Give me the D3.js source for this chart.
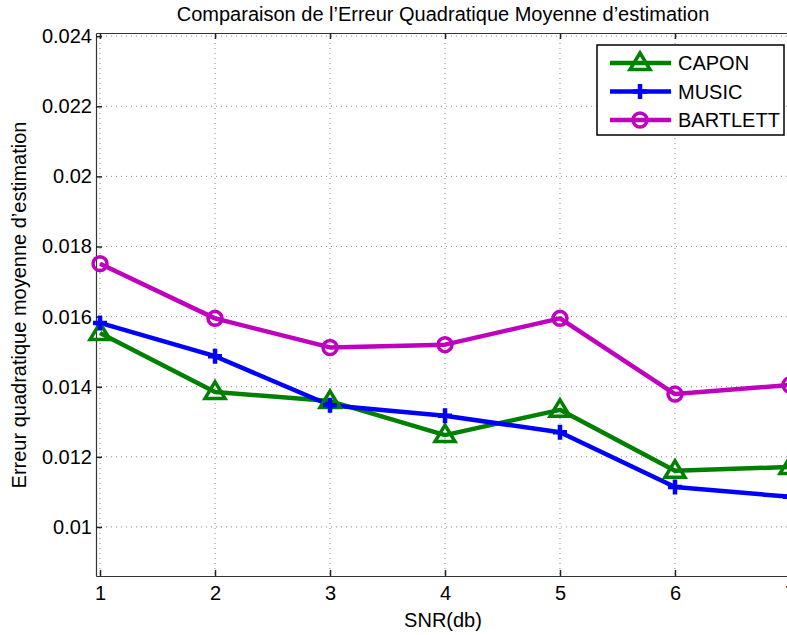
<!DOCTYPE html>
<html><head><meta charset="utf-8">
<script src="https://cdn.jsdelivr.net/npm/d3@7"></script>
<style>body{margin:0;background:#fff}svg{display:block}text{font-family:"Liberation Sans",Arial,sans-serif}</style>
</head><body>
<script>
const snr = [1,2,3,4,5,6,7];
const capon = [0.01553,0.01385,0.01359,0.01262,0.01334,0.0116,0.01171];
const music = [0.01582,0.01487,0.01347,0.01317,0.01270,0.01114,0.01086];
const bartlett = [0.01751,0.01595,0.01512,0.01520,0.01595,0.01379,0.01405];
const yTicks = [0.01,0.012,0.014,0.016,0.018,0.02,0.022,0.024];
const yTickLabels = ["0.01","0.012","0.014","0.016","0.018","0.02","0.022","0.024"];
const xTickLabels = ["1","2","3","4","5","6","7"];
const seriesNames = ["CAPON","MUSIC","BARTLETT"];
const colors = ["#008000","#0000ff","#bf00bf"];

const W=787,H=635;
const L=96,T=33,B=576,R=794;
const svg=d3.select("body").append("svg").attr("width",W).attr("height",H);
const x=d3.scaleLinear().domain([0.965,7.035]).range([L,R]);
const y=d3.scaleLinear().domain([0.0086,0.02409]).range([B,T]);

// grid
const g=svg.append("g");
snr.forEach(v=>g.append("line").attr("x1",x(v)).attr("x2",x(v)).attr("y1",T).attr("y2",B)
  .attr("stroke","#888").attr("stroke-width",1).attr("stroke-dasharray","1,4"));
yTicks.forEach(v=>g.append("line").attr("x1",L).attr("x2",R).attr("y1",y(v)).attr("y2",y(v))
  .attr("stroke","#888").attr("stroke-width",1).attr("stroke-dasharray","1,4"));

// axes
const xAxis=d3.axisBottom(x).tickValues(snr).tickFormat((d,i)=>xTickLabels[i]).tickSizeInner(-6).tickSizeOuter(0).tickPadding(10);
const yAxis=d3.axisLeft(y).tickValues(yTicks).tickFormat((d,i)=>yTickLabels[i]).tickSizeInner(-6).tickSizeOuter(0).tickPadding(4);
const xa=svg.append("g").attr("transform",`translate(0,${B})`).call(xAxis);
const ya=svg.append("g").attr("transform",`translate(${L},0)`).call(yAxis);
const xt=svg.append("g").attr("transform",`translate(0,${T})`).call(d3.axisTop(x).tickValues(snr).tickFormat("").tickSizeInner(-6).tickSizeOuter(0));
[xa,ya,xt].forEach(a=>{a.attr("font-size",20).attr("font-family","Liberation Sans, Arial, sans-serif");
  a.selectAll("path").attr("stroke","#333").attr("stroke-width",1.2);
  a.selectAll("line").attr("stroke","#222").attr("stroke-width",1.5);
  a.selectAll("text").attr("fill","#000");});

// lines
const data=[capon,music,bartlett];
const line=d3.line().x((d,i)=>x(snr[i])).y(d=>y(d));
const plot=svg.append("g");
data.forEach((s,k)=>{
  plot.append("path").attr("d",line(s)).attr("fill","none").attr("stroke",colors[k]).attr("stroke-width",4.5).attr("stroke-linejoin","round");
});
function marker(sel,k,cx,cy){
  if(k===0){
    sel.append("path").attr("d",`M${cx},${cy-10}L${cx+10},${cy+6.5}L${cx-10},${cy+6.5}Z`).attr("fill","none").attr("stroke",colors[k]).attr("stroke-width",3.5);
  } else if(k===1){
    sel.append("path").attr("d",`M${cx-7},${cy}H${cx+7}M${cx},${cy-7.5}V${cy+7.5}`).attr("stroke",colors[k]).attr("stroke-width",4.5);
  } else {
    sel.append("circle").attr("cx",cx).attr("cy",cy).attr("r",7).attr("fill","none").attr("stroke",colors[k]).attr("stroke-width",3.5);
  }
}
data.forEach((s,k)=>s.forEach((v,i)=>marker(plot,k,x(snr[i]),y(v))));

// legend
const lg=svg.append("g");
lg.append("rect").attr("x",597).attr("y",45).attr("width",187).attr("height",90).attr("fill","#fff").attr("stroke","#000").attr("stroke-width",1.5);
seriesNames.forEach((n,k)=>{
  const ly=63+k*28.5;
  lg.append("line").attr("x1",610).attr("x2",671).attr("y1",ly).attr("y2",ly).attr("stroke",colors[k]).attr("stroke-width",4.5);
  marker(lg,k,640,ly);
  lg.append("text").attr("x",678).attr("y",ly+7).attr("font-size",20).text(n);
});

// titles
svg.append("text").attr("x",443).attr("y",21).attr("text-anchor","middle").attr("font-size",20).text("Comparaison de l\u2019Erreur Quadratique Moyenne d\u2019estimation");
svg.append("text").attr("x",443).attr("y",627).attr("text-anchor","middle").attr("font-size",20).text("SNR(db)");
svg.append("text").attr("transform","translate(26,305) rotate(-90)").attr("text-anchor","middle").attr("font-size",20).text("Erreur quadratique moyenne d\u2019estimation");
</script>
</body></html>
